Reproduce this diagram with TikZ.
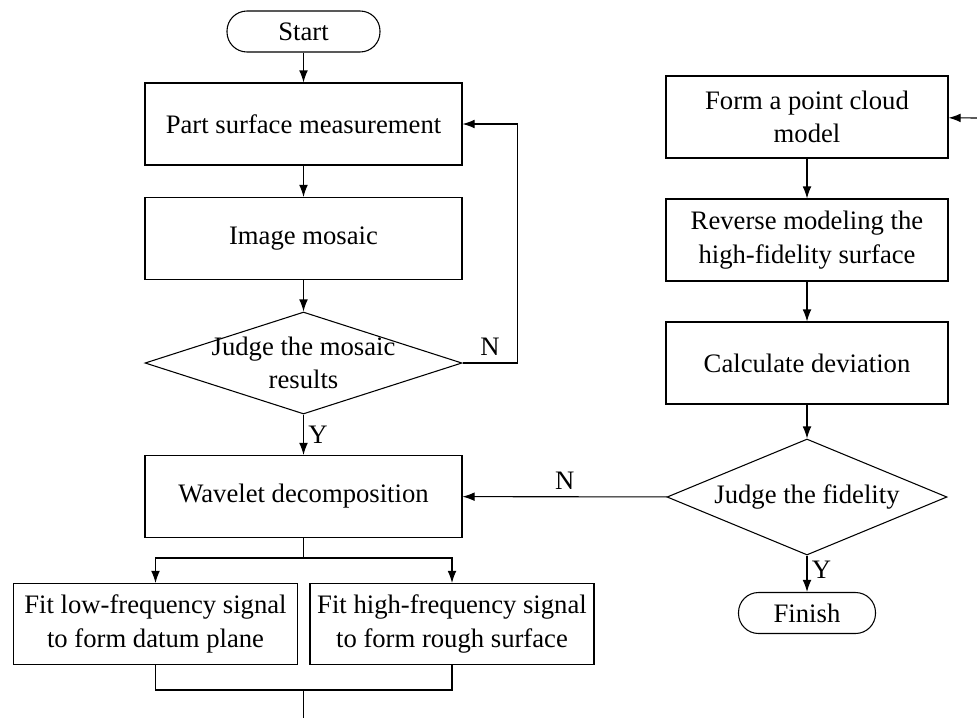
\documentclass[tikz,border=0pt]{standalone}
\usepackage{fontspec}
\setmainfont{Liberation Serif}
\usetikzlibrary{shapes.geometric,arrows.meta}

\begin{document}
\begin{tikzpicture}[>={Latex[length=9pt,width=6.5pt]}, x=0.75pt, y=-0.75pt, line width=0.8pt,
    font=\fontsize{20}{25}\selectfont,
    terminal/.style={draw,rounded corners=15pt,minimum width=114.75pt,minimum height=30.75pt,inner sep=0pt},
    box/.style={draw,minimum width=237.75pt,minimum height=61.5pt,align=center,inner sep=0pt},
    rbox/.style={draw,minimum width=211.5pt,minimum height=61.5pt,align=center,inner sep=0pt},
    fitbox/.style={draw,minimum width=213pt,minimum height=60.75pt,align=center,inner sep=0pt},
    decision/.style={draw,diamond,inner sep=0pt},
    inside/.style={label={[align=center,font=\fontsize{20}{25}\selectfont]center:#1}}]
    \useasboundingbox (0,0) rectangle (977,718);

    % left column
    \node[terminal] (start) at (303.5,31.5) {Start};
    \node[box] (part) at (303.5,124) {Part surface measurement};
    \node[box] (mosaic) at (303.5,238.5) {Image mosaic};
    \node[decision,minimum width=237.75pt,minimum height=76.5pt,
        inside={Judge the mosaic\\results}] (judge1) at (303.5,363) {};
    \node[box] (wavelet) at (303.5,496.5) {Wavelet decomposition};
    \node[fitbox] (low) at (155.5,624) {Fit low-frequency signal\\to form datum plane};
    \node[fitbox] (high) at (452,624) {Fit high-frequency signal\\to form rough surface};

    % right column
    \node[rbox] (cloud) at (807,117) {Form a point cloud\\model};
    \node[rbox] (reverse) at (807,240) {Reverse modeling the\\high-fidelity surface};
    \node[rbox] (deviation) at (807,363) {Calculate deviation};
    \node[decision,minimum width=210pt,minimum height=87pt,
        inside={Judge the fidelity}] (judge2) at (807,497) {};
    \node[terminal,minimum width=102.75pt] (finish) at (807,613) {Finish};

    \coordinate (split) at (303.5,558);
    \coordinate (join) at (303.5,690);
    \coordinate (out) at (303.5,718);
    \coordinate (in) at (977,118);

    \draw[->] (start) -- (part);
    \draw[->] (part) -- (mosaic);
    \draw[->] (mosaic) -- (judge1);
    \draw[->] (judge1.east) -- ++(55,0) node[pos=0.5,above,yshift=2pt] {N} |- (part.east);
    \draw[->] (judge1) -- node[right] {Y} (wavelet);
    \draw (wavelet) -- (split);
    \draw[->] (split) -| (low);
    \draw[->] (split) -| (high);
    \draw (low.south) |- (join) -| (high.south);
    \draw (join) -- (out);

    \draw[->] (in) -- (cloud);
    \draw[->] (cloud) -- (reverse);
    \draw[->] (reverse) -- (deviation);
    \draw[->] (deviation) -- (judge2);
    \draw[->] (judge2) -- node[above,yshift=2pt] {N} (wavelet);
    \draw[->] (judge2) -- node[right,pos=0.4] {Y} (finish);
\end{tikzpicture}
\end{document}
